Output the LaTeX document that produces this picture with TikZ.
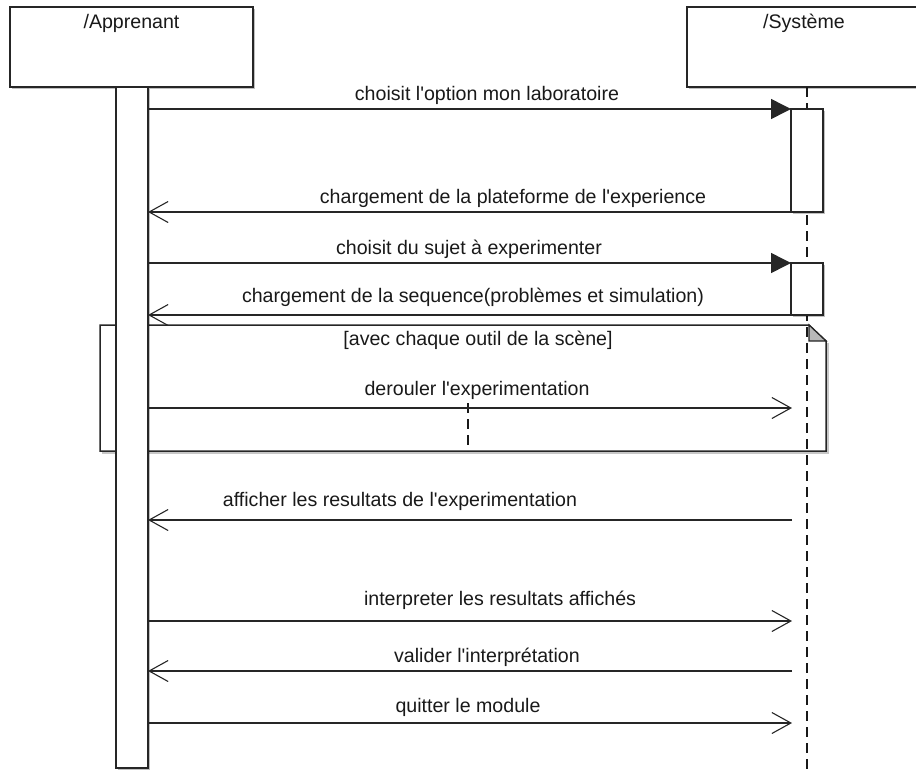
\documentclass[tikz,border=0pt]{standalone}
\usepackage{fontspec}
\newfontfamily\umlfont{Liberation Sans}[Ligatures=CommonOff]
\usetikzlibrary{arrows.meta,shadows}
\begin{document}
\begin{tikzpicture}[x=1pt,y=-1pt,
  every node/.style={inner sep=0pt,outer sep=0pt},
  shade/.style={drop shadow={shadow xshift=2pt,shadow yshift=-2pt,opacity=0.25,fill=black}},
  outline/.style={draw=black!85,line width=1.5pt},
  actorbox/.style={outline,fill=white,shade,minimum width=243pt,minimum height=80pt},
  bar/.style={outline,fill=white,shade,minimum width=32pt},
  txt/.style={anchor=base,font=\umlfont\fontsize{19.6}{23}\selectfont,text=black!90},
  lifeline/.style={draw=black!90,line width=2pt,dash pattern=on 10pt off 6pt},
  call/.style={draw=black!85,line width=1.5pt,-{Triangle[length=20pt,width=20pt]}},
  reply/.style={draw=black!85,line width=1.5pt,-{Straight Barb[length=19pt,width=21pt,line width=1.1pt]}},
]
\useasboundingbox (0,0) rectangle (916,769);
\clip (0,0) rectangle (916,769);

% actors
\node[actorbox] (app) at (131.5,47) {};
\node[actorbox,minimum width=234pt] (sys) at (804,47) {};
\node[txt] (appname) at (131.5,28) {/Apprenant};
\node[txt] (sysname) at (804,28) {/Système};

% lifeline of the system
\coordinate (sysl) at (806.5,87);
\coordinate (sysend) at (806.5,772);
\draw[lifeline] (sysl) -- (sysend);

% loop fragment with its folded corner and a soft edge shadow
\draw[draw=black!22,line width=2pt] (828,343) -- (828,453) -- (102,453);
\draw[outline] (100,325) -- (809,325) -- (826,341) -- (826,451) -- (100,451) -- cycle;
\draw[draw=black!85,line width=1.2pt,fill=black!28] (809,325) -- (809,341) -- (826,341) -- cycle;
\coordinate (sep top) at (468,403);
\coordinate (sep bot) at (468,451);
\draw[draw=black!90,line width=1.5pt,dash pattern=on 10pt off 6pt] (sep top) -- (sep bot);
\node[txt] (guard) at (478,345) {[avec chaque outil de la scène]};

% activation bars
\node[bar,minimum height=681pt] (appbar) at (132,427.5) {};
\node[bar,minimum height=103pt] (act1) at (807,160.5) {};
\node[bar,minimum height=52pt] (act2) at (807,289) {};

% message ends on the system side
\coordinate (s6) at (792,408);
\coordinate (s7) at (792,520);
\coordinate (s8) at (792,621);
\coordinate (s9) at (792,671);
\coordinate (s10) at (792,723);

% messages
\draw[call] (appbar.east |- act1.north) -- (act1.north west);
\node[txt] (t1) at (487,100) {choisit l'option mon laboratoire};

\draw[reply] (act1.south west) -- (appbar.east |- act1.south);
\node[txt] (t2) at (513,203) {chargement de la plateforme de l'experience};

\draw[call] (appbar.east |- act2.north) -- (act2.north west);
\node[txt] (t3) at (469,254) {choisit du sujet à experimenter};

\draw[reply] (act2.south west) -- (appbar.east |- act2.south);
\node[txt] (t4) at (473,302) {chargement de la sequence(problèmes et simulation)};

\draw[reply] (appbar.east |- s6) -- (s6);
\node[txt] (t6) at (477,395) {derouler l'experimentation};

\draw[reply] (s7) -- (appbar.east |- s7);
\node[txt] (t7) at (400,506) {afficher les resultats de l'experimentation};

\draw[reply] (appbar.east |- s8) -- (s8);
\node[txt] (t8) at (500,605) {interpreter les resultats affichés};

\draw[reply] (s9) -- (appbar.east |- s9);
\node[txt] (t9) at (487,662) {valider l'interprétation};

\draw[reply] (appbar.east |- s10) -- (s10);
\node[txt] (t10) at (468,712) {quitter le module};
\end{tikzpicture}
\end{document}
